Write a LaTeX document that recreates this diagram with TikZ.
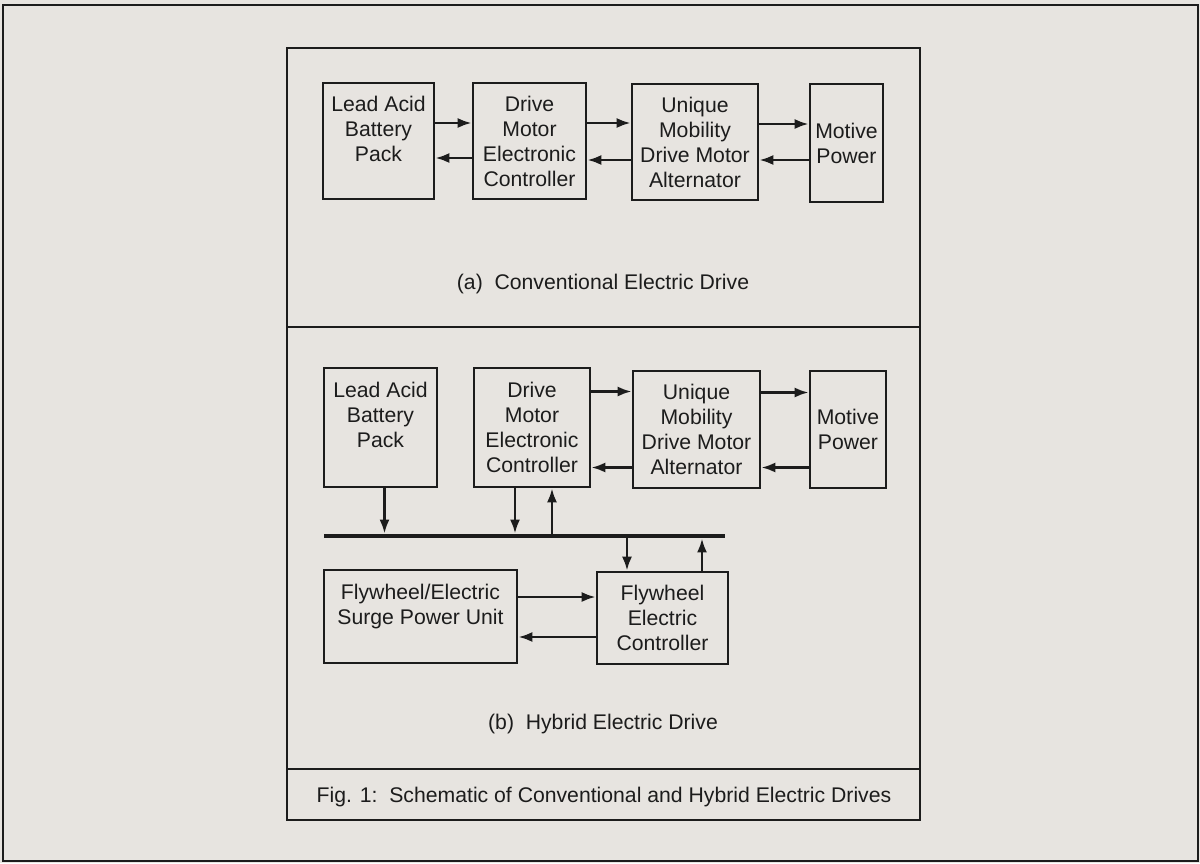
\documentclass[tikz,border=0pt]{standalone}
\usepackage{fontspec}
\setmainfont{Liberation Sans}
\usepackage{xcolor}
\usepackage{tikz}
\usetikzlibrary{arrows.meta,positioning}
\definecolor{ScanPaper}{HTML}{E7E4E0}
\definecolor{ScanInk}{HTML}{1C1C1C}
\tikzset{
  blk/.style={draw=ScanInk,line width=1.3pt,align=center,inner sep=0pt,
              text=ScanInk,font=\fontsize{10.6}{12.5}\selectfont},
  flow/.style={draw=ScanInk,line width=1.3pt,
               -{Latex[length=7pt,width=5pt]}},
  busline/.style={draw=ScanInk,line width=2.4pt},
  frameline/.style={draw=ScanInk,line width=1.3pt},
  captext/.style={text=ScanInk,font=\fontsize{10.6}{12.5}\selectfont}
}

\begin{document}
\begin{tikzpicture}[x=0.5pt,y=-0.5pt]
  \useasboundingbox (0,0) rectangle (1200,863);
  % page and frames
  \fill[ScanPaper] (0,0) rectangle (1200,863);
  \draw[frameline] (3,5) rectangle (1198,861);
  \draw[frameline] (287,48) rectangle (920,820);
  \draw[frameline] (287,327) -- (920,327);
  \draw[frameline] (287,769) -- (920,769);

  % (a) conventional drive
  \node[blk,minimum width=55.5pt,minimum height=58pt] (bat1) at (378.5,141)
    {Lead Acid\\Battery\\Pack\\\phantom{X}};
  \node[blk,minimum width=56.5pt,minimum height=58pt] (ctl1) at (529.5,141)
    {Drive\\Motor\\Electronic\\Controller};
  \node[blk,minimum width=63pt,minimum height=58pt] (mot1) at (695,142)
    {Unique\\Mobility\\Drive Motor\\Alternator};
  \node[blk,minimum width=36.5pt,minimum height=59pt] (pow1) at (846.5,143)
    {Motive\\Power};
  \draw[flow] ([yshift=9pt]bat1.east) -- ([yshift=9pt]bat1.east -| ctl1.west);
  \draw[flow] ([yshift=-8.5pt]ctl1.west) -- ([yshift=-8.5pt]ctl1.west -| bat1.east);
  \draw[flow] ([yshift=9pt]ctl1.east) -- ([yshift=9pt]ctl1.east -| mot1.west);
  \draw[flow] ([yshift=-9pt]mot1.west) -- ([yshift=-9pt]mot1.west -| ctl1.east);
  \draw[flow] ([yshift=9pt]mot1.east) -- ([yshift=9pt]mot1.east -| pow1.west);
  \draw[flow] ([yshift=-8.5pt]pow1.west) -- ([yshift=-8.5pt]pow1.west -| mot1.east);
  \node[captext] (capA) at (603,284) {(a)\ \ Conventional Electric Drive};

  % (b) hybrid drive
  \node[blk,minimum width=56.5pt,minimum height=59.5pt] (bat2) at (380.5,427.5)
    {Lead Acid\\Battery\\Pack\\\phantom{X}};
  \node[blk,minimum width=58pt,minimum height=59.5pt] (ctl2) at (532,427.5)
    {Drive\\Motor\\Electronic\\Controller};
  \node[blk,minimum width=63.5pt,minimum height=58.5pt] (mot2) at (696.5,429.5)
    {Unique\\Mobility\\Drive Motor\\Alternator};
  \node[blk,minimum width=38pt,minimum height=58.5pt] (pow2) at (848,429.5)
    {Motive\\Power};
  \node[blk,minimum width=96.5pt,minimum height=46.5pt] (fly) at (420.5,616.5)
    {Flywheel/Electric\\Surge Power Unit\\\phantom{X}};
  \node[blk,minimum width=65.5pt,minimum height=46pt] (fctl) at (662.5,618)
    {Flywheel\\Electric\\Controller};
  \draw[flow] ([yshift=18pt]ctl2.east) -- ([yshift=18pt]ctl2.east -| mot2.west);
  \draw[flow] ([yshift=-19pt]mot2.west) -- ([yshift=-19pt]mot2.west -| ctl2.east);
  \draw[flow] ([yshift=18.5pt]mot2.east) -- ([yshift=18.5pt]mot2.east -| pow2.west);
  \draw[flow] ([yshift=-19pt]pow2.west) -- ([yshift=-19pt]pow2.west -| mot2.east);
  \draw[flow] ([yshift=9.75pt]fly.east) -- ([yshift=9.75pt]fly.east -| fctl.west);
  \draw[flow] ([yshift=-9.5pt]fctl.west) -- ([yshift=-9.5pt]fctl.west -| fly.east);

  % power bus
  \coordinate (busL) at (324,536);
  \coordinate (busR) at (725,536);
  \draw[busline] (busL) -- (busR);
  \draw[flow,shorten >=1.2pt] ([xshift=2pt]bat2.south) -- ([xshift=2pt]bat2.south |- busL);
  \draw[flow,shorten >=1.2pt] ([xshift=-8.5pt]ctl2.south) -- ([xshift=-8.5pt]ctl2.south |- busL);
  \draw[flow,shorten <=1.2pt] ([xshift=10pt]ctl2.south |- busL) -- ([xshift=10pt]ctl2.south);
  \draw[flow,shorten <=1.2pt] ([xshift=-17.75pt]fctl.north |- busL) -- ([xshift=-17.75pt]fctl.north);
  \draw[flow,shorten >=1.2pt] ([xshift=19.75pt]fctl.north) -- ([xshift=19.75pt]fctl.north |- busL);
  \node[captext] (capB) at (603,724) {(b)\ \ Hybrid Electric Drive};

  % figure caption
  \node[captext] (capFig) at (604,797)
    {Fig. 1:\ \ Schematic of Conventional and Hybrid Electric Drives};
\end{tikzpicture}
\end{document}
